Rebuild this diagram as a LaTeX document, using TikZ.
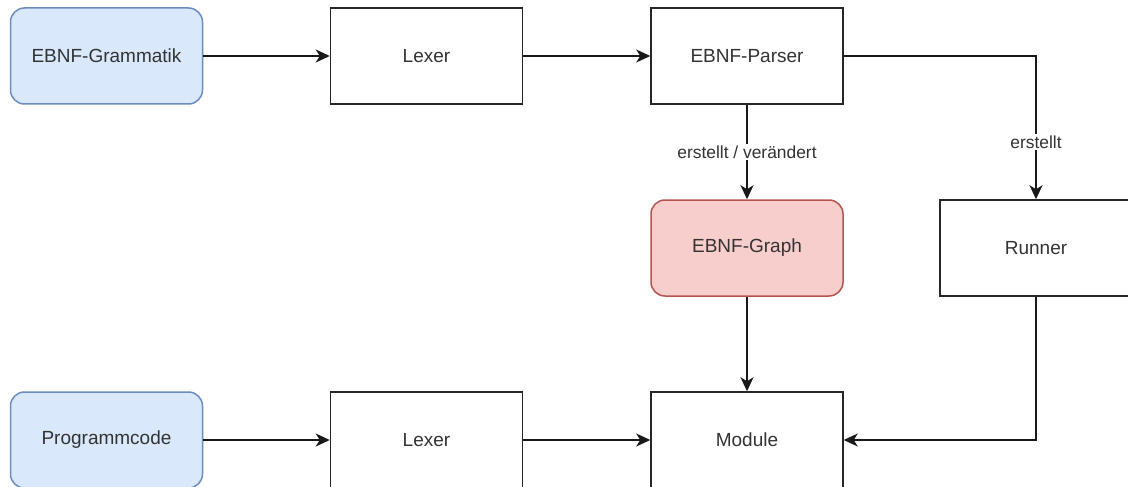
\documentclass[tikz,border=0pt]{standalone}
\usepackage{fontspec}
\setmainfont{Liberation Sans}
\usetikzlibrary{arrows.meta}
\definecolor{bluefill}{HTML}{DAE8FC}
\definecolor{blueline}{HTML}{6C8EBF}
\definecolor{redfill}{HTML}{F8CECC}
\definecolor{redline}{HTML}{B85450}
\definecolor{txt}{HTML}{333333}
\begin{document}
\begin{tikzpicture}[x=1pt,y=-1pt,
  font=\fontsize{19}{23}\selectfont,
  box/.style={draw, minimum height=96pt, minimum width=192pt, align=center, line width=1.5pt, text=txt},
  plain/.style={box, fill=white, draw=black!85},
  src/.style={box, rounded corners=14pt, fill=bluefill, draw=blueline},
  graph/.style={box, rounded corners=14pt, fill=redfill, draw=redline},
  arr/.style={-{Stealth[length=14pt,width=13pt,inset=4pt]}, line width=1.7pt, draw=black!90},
  lab/.style={font=\fontsize{17.4}{20}\selectfont, fill=white, text=txt, inner sep=2pt}
]
\clip (0,0) rectangle (1128,487);
\fill[white] (0,0) rectangle (1128,487);
\node[src]   (gram)   at (106.5,56)  {EBNF-Grammatik};
\node[plain] (lexa)   at (426.5,56)  {Lexer};
\node[plain] (parser) at (747,56)    {EBNF-Parser};
\node[graph] (ebnf)   at (747,248)   {EBNF-Graph};
\node[plain] (runner) at (1036,248)  {Runner};
\node[src]   (prog)   at (106.5,440) {Programmcode};
\node[plain] (lexb)   at (426.5,440) {Lexer};
\node[plain] (module) at (747,440)   {Module};
\draw[arr] (gram) -- (lexa);
\draw[arr] (lexa) -- (parser);
\draw[arr] (parser) -- node[lab] {erstellt / verändert} (ebnf);
\draw[arr] (parser.east) -| node[lab, pos=0.8] {erstellt} (runner.north);
\draw[arr] (ebnf) -- (module);
\draw[arr] (runner.south) |- (module.east);
\draw[arr] (prog) -- (lexb);
\draw[arr] (lexb) -- (module);
\end{tikzpicture}
\end{document}
